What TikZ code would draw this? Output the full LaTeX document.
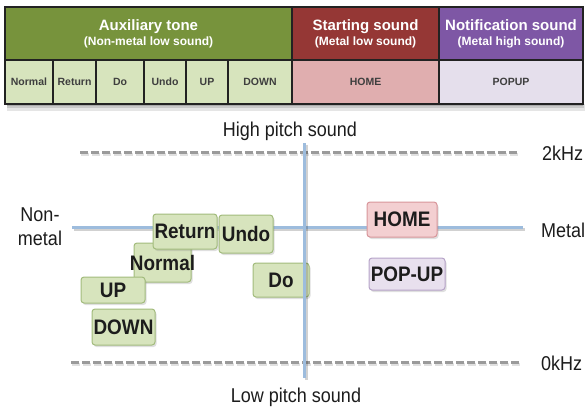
\documentclass[tikz,border=0pt]{standalone}
\usepackage{fontspec}
\setmainfont{Liberation Sans}
\newfontfamily\narrowsans[FakeStretch=0.9]{Liberation Sans}
\usetikzlibrary{shadows}

% palette
\definecolor{auxdark}{HTML}{77933C}
\definecolor{auxlight}{HTML}{D7E4BD}
\definecolor{startdark}{HTML}{953735}
\definecolor{startlight}{HTML}{E0AEAF}
\definecolor{notedark}{HTML}{7E57A5}
\definecolor{notelight}{HTML}{E5DFEC}
\definecolor{cellline}{HTML}{222222}
\definecolor{axisblue}{HTML}{9DBCDD}
\definecolor{gridgray}{HTML}{9A9A9A}
\definecolor{tagline}{HTML}{A2BB7C}
\definecolor{homefill}{HTML}{F3CFD1}
\definecolor{homeline}{HTML}{D8959A}
\definecolor{popfill}{HTML}{E8E0EE}
\definecolor{popline}{HTML}{B6A3C8}
\definecolor{ink}{HTML}{1C1C1C}

\tikzset{
  cell/.style={draw=cellline, line width=1.2pt, inner sep=0pt, align=center},
  headcell/.style={cell, text=white, font=\bfseries\fontsize{15}{16}\selectfont},
  subcell/.style={cell, text=ink!85, font=\bfseries\fontsize{10.5}{12}\selectfont},
  tagbox/.style={draw=tagline, fill=auxlight, line width=1pt, rounded corners=3pt,
    inner sep=0pt, drop shadow={shadow xshift=1.5pt, shadow yshift=-2pt, opacity=.25}},
  tagtext/.style={text=ink, font=\narrowsans\bfseries\fontsize{21}{22}\selectfont, inner sep=0pt},
  axislabel/.style={text=ink, font=\narrowsans\fontsize{20}{24}\selectfont, inner sep=0pt},
  gridline/.style={draw=gridgray, line width=3pt, dash pattern=on 8pt off 3pt},
  axisline/.style={draw=axisblue, line width=3pt},
  axisshadow/.style={draw=black, opacity=.18, line width=3pt},
}

\begin{document}
\begin{tikzpicture}[x=1pt, y=-1pt]
\useasboundingbox (0,0) rectangle (585,410);

% ---------- classification table ----------
\fill[black, opacity=.10] (7,104) rectangle (585,111);
\fill[black, opacity=.12] (7,104) rectangle (584,108);
\fill[black, opacity=.15] (7,104) rectangle (583,106);

\node[headcell, fill=auxdark, minimum width=287pt, minimum height=53pt] (aux) at (148.5,33.5)
  {Auxiliary tone\\[-1pt]{\fontsize{12}{13}\selectfont (Non-metal low sound)}};
\node[headcell, fill=startdark, minimum width=147pt, minimum height=53pt] (start) at (365.5,33.5)
  {Starting sound\\[-1pt]{\fontsize{12}{13}\selectfont (Metal low sound)}};
\node[headcell, fill=notedark, minimum width=144pt, minimum height=53pt] (note) at (511,33.5)
  {Notification sound\\[-1pt]{\fontsize{12}{13}\selectfont (Metal high sound)}};

\node[subcell, fill=auxlight, minimum width=48pt, minimum height=44pt] (cNormal) at (29,82) {Normal};
\node[subcell, fill=auxlight, minimum width=43pt, minimum height=44pt] (cReturn) at (74.5,82) {Return};
\node[subcell, fill=auxlight, minimum width=48pt, minimum height=44pt] (cDo) at (120,82) {Do};
\node[subcell, fill=auxlight, minimum width=42pt, minimum height=44pt] (cUndo) at (165,82) {Undo};
\node[subcell, fill=auxlight, minimum width=42pt, minimum height=44pt] (cUp) at (207,82) {UP};
\node[subcell, fill=auxlight, minimum width=64pt, minimum height=44pt] (cDown) at (260,82) {DOWN};
\node[subcell, fill=startlight, minimum width=147pt, minimum height=44pt] (cHome) at (365.5,82) {HOME};
\node[subcell, fill=notelight, minimum width=144pt, minimum height=44pt] (cPopup) at (511,82) {POPUP};

% ---------- pitch / material chart ----------
\coordinate (hiL) at (80,152);
\coordinate (hiR) at (519,152);
\coordinate (loL) at (71,362);
\coordinate (loR) at (521,362);
\coordinate (hL) at (72,227);
\coordinate (hR) at (523,227);
\coordinate (vT) at (304,143);
\coordinate (vB) at (304,378);

% frequency limits
\draw[gridline, draw=black, opacity=.12] ([shift={(1,2)}]hiL) -- ([shift={(1,2)}]hiR);
\draw[gridline, draw=black, opacity=.12] ([shift={(1,2)}]loL) -- ([shift={(1,2)}]loR);
\draw[gridline] (hiL) -- (hiR);
\draw[gridline] (loL) -- (loR);

% metal / non-metal axis
\draw[axisshadow] ([shift={(1.5,2.5)}]hL) -- ([shift={(1.5,2.5)}]hR);
\draw[axisline] (hL) -- (hR);

\node[axislabel] (high) at (290,131) {High pitch sound};
\node[axislabel] (low) at (296,397) {Low pitch sound};
\node[axislabel, anchor=west] (k2) at (542,153) {2kHz};
\node[axislabel, anchor=west] (k0) at (541,363) {0kHz};
\node[axislabel, align=center] (nonmetal) at (40,227) {Non-\\metal};
\node[axislabel, anchor=west] (metal) at (541,230) {Metal};

% sound tags
\node[tagbox, minimum width=57pt, minimum height=39pt] (normal) at (162.5,262.5) {};
\node[tagtext] at (normal.center) {Normal};
\node[tagbox, minimum width=64pt, minimum height=35pt] (return) at (185,231.5) {};
\node[tagtext] at (return.center) {Return};
\node[tagbox, minimum width=54pt, minimum height=38pt] (undo) at (246,234) {};
\node[tagtext] at (undo.center) {Undo};
\node[tagbox, minimum width=64pt, minimum height=26pt] (up) at (113,290) {};
\node[tagtext] at (up.center) {UP};
\node[tagbox, minimum width=63pt, minimum height=36pt] (down) at (123.5,327) {};
\node[tagtext] at (down.center) {DOWN};
\node[tagbox, minimum width=56pt, minimum height=34pt] (do) at (281,280) {};
\node[tagtext] at (do.center) {Do};
\node[tagbox, draw=homeline, fill=homefill, minimum width=70pt, minimum height=35pt] (home) at (402,219.5) {};
\node[tagtext] at (home.center) {HOME};
\node[tagbox, draw=popline, fill=popfill, minimum width=76pt, minimum height=32pt] (popup) at (407,274) {};
\node[tagtext] at (popup.center) {POP-UP};

% pitch axis, drawn over the tags
\draw[axisshadow] ([shift={(2,1.5)}]vT) -- ([shift={(2,1.5)}]vB);
\draw[axisline] (vT) -- (vB);
\end{tikzpicture}
\end{document}
